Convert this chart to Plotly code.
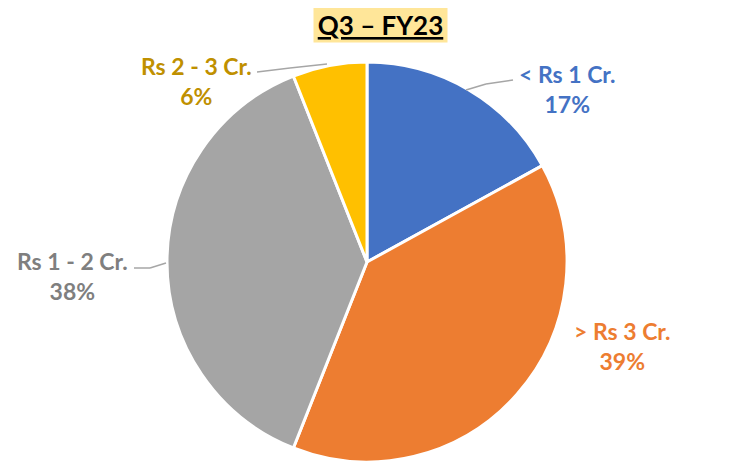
import plotly.graph_objects as go

title_text = "Q3 – FY23"
categories = ["< Rs 1 Cr.", "> Rs 3 Cr.", "Rs 1 - 2 Cr.", "Rs 2 - 3 Cr."]
values = [17, 39, 38, 6]
slice_colors = ["#4472C4", "#ED7D31", "#A5A5A5", "#FFC000"]
label_colors = ["#4472C4", "#ED7D31", "#7F7F7F", "#BF9000"]

# page body has an 8px margin; work in reference pixel coords and subtract it
OFF = 8
W, H = 732 - OFF, 463 - OFF
cx, cy, r = 367 - OFF, 262 - OFF, 200


def px(x):
    return (x - OFF) / W


def py(y):
    return 1 - (y - OFF) / H


fig = go.Figure(go.Pie(
    labels=categories,
    values=values,
    sort=False,
    direction="clockwise",
    rotation=0,
    marker=dict(colors=slice_colors, line=dict(color="white", width=3)),
    textinfo="none",
    hoverinfo="label+percent",
    showlegend=False,
    domain=dict(x=[(cx - r) / W, (cx + r) / W], y=[max(0, (H - cy - r) / H), min(1, (H - cy + r) / H)]),
))

label_pos = [(567, 89), (622, 346), (72, 276), (196, 81)]
annotations = []
for cat, v, col, (lx, ly) in zip(categories, values, label_colors, label_pos):
    annotations.append(dict(
        x=px(lx), y=py(ly), xref="paper", yref="paper",
        text=f"<b>{cat}</b><br><b>{v}%</b>", showarrow=False,
        font=dict(family="Lato", size=23, color=col),
        align="center", xanchor="center", yanchor="middle",
    ))

annotations.append(dict(
    x=px(380), y=py(25), xref="paper", yref="paper",
    text=f"<b><u>{title_text}</u></b>", showarrow=False,
    font=dict(family="Lato", size=26, color="black"),
    bgcolor="#FFE699", width=131, height=32, borderpad=1,
    xanchor="center", yanchor="middle",
))

leader_lines = [
    [(466, 90), (486, 84), (513, 80)],
    [(327, 64), (290, 68), (257, 72)],
    [(166, 263), (150, 268), (134, 268)],
]
shapes = []
for pts in leader_lines:
    for (x0, y0), (x1, y1) in zip(pts[:-1], pts[1:]):
        shapes.append(dict(type="line", xref="paper", yref="paper",
                           x0=px(x0), y0=py(y0), x1=px(x1), y1=py(y1),
                           line=dict(color="#A6A6A6", width=1.5)))

fig.update_layout(
    width=W, height=H,
    margin=dict(l=0, r=0, t=0, b=0),
    paper_bgcolor="white", plot_bgcolor="white",
    annotations=annotations, shapes=shapes,
)

fig.write_html("out.html")
